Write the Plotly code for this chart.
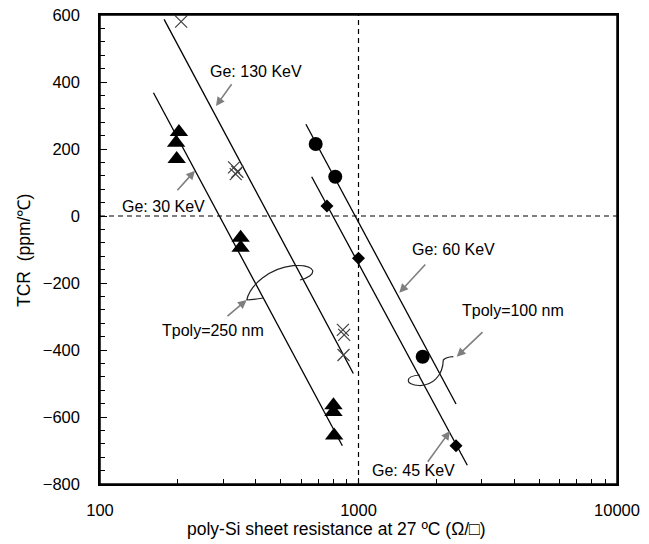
import plotly.graph_objects as go

# ---------------- data ----------------
# Ge 30 KeV, Tpoly=250 nm (triangles)
tri_x = [202, 197, 198, 350, 350, 800, 800, 805]
tri_y = [251, 219, 170, -65, -95, -565, -585, -655]
# Ge 130 KeV, Tpoly=250 nm (crosses)
crs_x = [206, 330, 340, 335, 870, 880, 875]
crs_y = [580, 145, 132, 125, -340, -355, -415]
# Ge 60 KeV, Tpoly=100 nm (circles)
cir_x = [683, 813, 1771]
cir_y = [215, 117, -420]
# Ge 45 KeV, Tpoly=100 nm (diamonds)
dia_x = [755, 1000, 2384]
dia_y = [30, -126, -686]

# fitted trend lines (end points)
fit30_x, fit30_y = [161, 866], [368, -686]
fit130_x, fit130_y = [177, 955], [587, -470]
fit60_x, fit60_y = [626, 2384], [274, -561]
fit45_x, fit45_y = [659, 2636], [117, -744]

# reference lines
ref_v_x, ref_v_y = [1000, 1000], [-800, 600]
ref_h_x, ref_h_y = [100, 10000], [0, 0]

x_major = [100, 1000, 10000]
x_minor = [200, 300, 400, 500, 600, 700, 800, 900,
           2000, 3000, 4000, 5000, 6000, 7000, 8000, 9000]

# ---------------- layout helpers ----------------
W, H = 649, 544
L, R, T, B = 100, 617, 15, 484   # plot area in pixels


def px(x):
    return (x - L) / (R - L)


def py(y):
    return (B - y) / (B - T)


FONT = "Liberation Sans, Arial, sans-serif"

fig = go.Figure()

line_style = dict(color="black", width=1.3)
for fx, fy in [(fit30_x, fit30_y), (fit130_x, fit130_y), (fit60_x, fit60_y), (fit45_x, fit45_y)]:
    fig.add_trace(go.Scatter(x=fx, y=fy, mode="lines", line=line_style,
                             showlegend=False, hoverinfo="skip"))

dash_style = dict(color="black", width=1.2, dash="5px,4px")
fig.add_trace(go.Scatter(x=ref_v_x, y=ref_v_y, mode="lines", line=dash_style,
                         showlegend=False, hoverinfo="skip"))
fig.add_trace(go.Scatter(x=ref_h_x, y=ref_h_y, mode="lines", line=dash_style,
                         showlegend=False, hoverinfo="skip"))

fig.add_trace(go.Scatter(x=tri_x, y=tri_y, mode="markers", showlegend=False,
                         marker=dict(symbol="triangle-up", size=16, color="black")))
fig.add_trace(go.Scatter(x=crs_x, y=crs_y, mode="markers", showlegend=False,
                         marker=dict(symbol="x-thin-open", size=12, color="#404040",
                                     line=dict(color="#404040", width=1.2))))
fig.add_trace(go.Scatter(x=cir_x, y=cir_y, mode="markers", showlegend=False,
                         marker=dict(symbol="circle", size=14, color="black")))
fig.add_trace(go.Scatter(x=dia_x, y=dia_y, mode="markers", showlegend=False,
                         marker=dict(symbol="diamond", size=10, color="black")))

# ---------------- annotations ----------------
labels = [
    ("Ge: 130 KeV", 255.7, 71, (216, 106), (232.7, 82.7)),
    ("Ge: 30 KeV", 163.3, 206, (195, 170.7), (176, 191.7)),
    ("Ge: 60 KeV", 453.3, 249, (399.3, 292.7), (426.7, 263)),
    ("Tpoly=100 nm", 513.3, 310, (456.7, 356.7), (484, 330.7)),
    ("Tpoly=250 nm", 212.7, 330, (246.7, 300), (226, 317.3)),
    ("Ge: 45 KeV", 413.3, 470, (450, 431), (426.7, 463.3)),
]
annotations = []
for text, tx, ty, head, tail in labels:
    annotations.append(dict(text=text, x=px(tx), y=py(ty), xref="paper", yref="paper",
                            showarrow=False, xanchor="center", yanchor="middle",
                            font=dict(family=FONT, size=16, color="black")))
    annotations.append(dict(text="", x=px(head[0]), y=py(head[1]), xref="paper", yref="paper",
                            ax=tail[0] - head[0], ay=tail[1] - head[1],
                            showarrow=True, arrowhead=2, arrowsize=1.1, arrowwidth=1.6,
                            arrowcolor="#7f7f7f"))

# axis titles (placed where the reference has them)
annotations.append(dict(text="poly-Si sheet resistance at 27 ºC (Ω/□)",
                        x=px(336.5), y=py(528.5), xref="paper", yref="paper",
                        showarrow=False, xanchor="center", yanchor="middle",
                        font=dict(family=FONT, size=17.5, color="black")))
annotations.append(dict(text="TCR  (ppm/℃)", textangle=-90,
                        x=px(24), y=py(251), xref="paper", yref="paper",
                        showarrow=False, xanchor="center", yanchor="middle",
                        font=dict(family=FONT, size=17.5, color="black")))


def path(points_cmds):
    out = []
    for cmd, pts in points_cmds:
        out.append(cmd + " " + " ".join(f"{px(x):.4f},{py(y):.4f}" for x, y in pts))
    return " ".join(out)


loop250 = path([
    ("M", [(246.7, 300)]),
    ("C", [(250, 285), (270, 268), (293, 265.7)]),
    ("C", [(318, 264), (318, 276), (300, 280)]),
    ("M", [(246.7, 300)]),
    ("C", [(252, 300), (258, 299), (263.3, 298)]),
])
loop100 = path([
    ("M", [(453.3, 356.7)]),
    ("C", [(449, 357), (445, 358), (443.3, 360)]),
    ("C", [(443, 376), (432, 386), (419, 385.5)]),
    ("C", [(405, 385), (404, 376), (420, 375)]),
])
shapes = [
    dict(type="path", path=loop250, xref="paper", yref="paper",
         line=dict(color="#222222", width=1.2)),
    dict(type="path", path=loop100, xref="paper", yref="paper",
         line=dict(color="#222222", width=1.2)),
    dict(type="rect", x0=0, x1=1, y0=0, y1=1, xref="paper", yref="paper",
         line=dict(color="black", width=1.5), fillcolor="rgba(0,0,0,0)", layer="above"),
]

fig.update_layout(
    width=W, height=H,
    margin=dict(l=L, r=W - R, t=T, b=H - B, autoexpand=False),
    paper_bgcolor="white", plot_bgcolor="white",
    font=dict(family=FONT, size=16, color="black"),
    annotations=annotations,
    shapes=shapes,
)

fig.update_xaxes(
    type="log", range=[2, 4],
    tickmode="array", tickvals=x_major, ticktext=[str(v) for v in x_major],
    ticks="inside", ticklen=6, tickcolor="black", tickwidth=1,
    minor=dict(tickmode="array", tickvals=x_minor, ticks="inside", ticklen=5,
               tickcolor="black", showgrid=False),
    showline=True, linecolor="black", linewidth=1.5, mirror=True,
    showgrid=False, zeroline=False,
    ticklabelstandoff=10, ticklabeloverflow="allow",
    tickfont=dict(family=FONT, size=16.5),
)
fig.update_yaxes(
    range=[-800, 600], dtick=200, tick0=0,
    ticks="inside", ticklen=7, tickcolor="black", tickwidth=1,
    minor=dict(dtick=40, ticks="inside", ticklen=5, tickcolor="black", showgrid=False),
    showline=True, linecolor="black", linewidth=1.5, mirror=True,
    showgrid=False, zeroline=False,
    ticklabelstandoff=15, ticklabeloverflow="allow",
    tickfont=dict(family=FONT, size=16.5),
)

# remove the default 8px page margin so the figure fills the window exactly
fig.write_html("out.html",
               config={"displayModeBar": False},
               post_script="document.body.style.margin='0px';document.body.style.overflow='hidden';")
